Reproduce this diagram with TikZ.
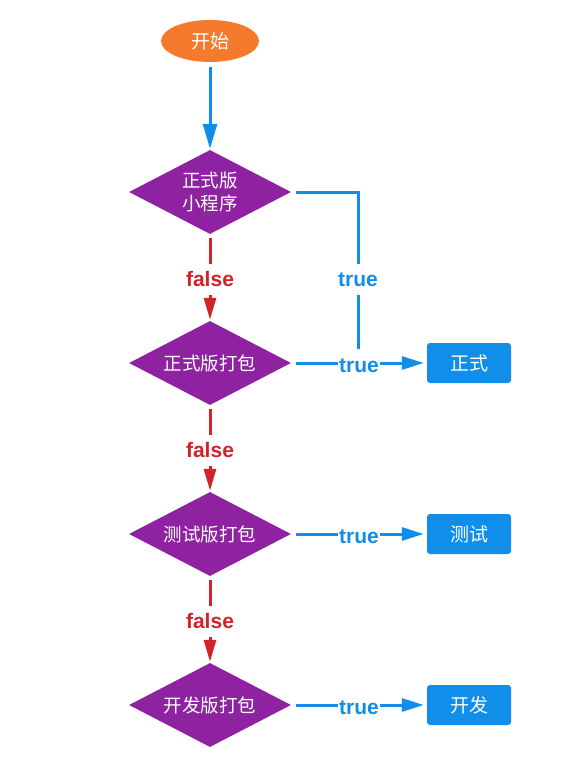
\documentclass[tikz,border=0pt]{standalone}
\usepackage{fontspec}
\setmainfont{Noto Sans CJK SC}
\newfontfamily\latfont{Liberation Sans}
\usetikzlibrary{shapes.geometric,arrows.meta}
\definecolor{cblue}{HTML}{108EE9}
\definecolor{cpurple}{HTML}{8E22A0}
\definecolor{corange}{HTML}{F57A2E}
\definecolor{cred}{HTML}{D2232A}
\tikzset{
  x=1pt,y=1pt,
  startnode/.style={ellipse,fill=corange,text=white,minimum width=98pt,minimum height=42pt,inner sep=0pt,font=\fontsize{19}{23}\selectfont},
  decision/.style={diamond,fill=cpurple,text=white,minimum width=162pt,minimum height=84pt,inner sep=0pt,aspect=1.93,align=center,font=\fontsize{18.5}{23}\selectfont},
  result/.style={rectangle,rounded corners=3pt,fill=cblue,text=white,minimum width=84pt,minimum height=40pt,inner sep=0pt,font=\fontsize{19}{23}\selectfont},
  bline/.style={draw=cblue,line width=3pt},
  rline/.style={draw=cred,line width=3pt},
  lbl/.style={fill=white,inner xsep=1.5pt,inner ysep=8pt,text height=15pt,text depth=0pt,yshift=-1.5pt,font=\latfont\bfseries\fontsize{21}{24}\selectfont},
}
\begin{document}
\begin{tikzpicture}
\useasboundingbox (0,0) rectangle (561,-771);
\node[startnode] (start) at (210,-41) {开始};
\node[decision] (d1) at (210,-192) {正式版\\小程序};
\node[decision] (d2) at (210,-363) {正式版打包};
\node[decision] (d3) at (210,-534) {测试版打包};
\node[decision] (d4) at (210,-705) {开发版打包};
\node[result] (r1) at (469,-363) {正式};
\node[result] (r2) at (469,-534) {测试};
\node[result] (r3) at (469,-705) {开发};
\coordinate (c1) at (358,-192);
\coordinate (c2) at (358,-363);

\draw[bline,-{Triangle[length=25pt,width=14pt]},shorten <=5pt,shorten >=1pt] (start) -- (d1);
\draw[rline,-{Triangle[length=22pt,width=12pt]},shorten <=4pt,shorten >=1pt] (d1) -- node[lbl,text=cred]{false} (d2);
\draw[rline,-{Triangle[length=22pt,width=12pt]},shorten <=4pt,shorten >=1pt] (d2) -- node[lbl,text=cred]{false} (d3);
\draw[rline,-{Triangle[length=22pt,width=12pt]},shorten <=4pt,shorten >=1pt] (d3) -- node[lbl,text=cred]{false} (d4);

\draw[bline,shorten <=5pt] (d1.east) -- (c1) -- node[lbl,text=cblue]{true} (c2);
\draw[bline,-{Triangle[length=22pt,width=13pt]},shorten <=5pt,shorten >=3pt] (d2.east) -- node[lbl,text=cblue]{true} (r1.west);
\draw[bline,-{Triangle[length=22pt,width=13pt]},shorten <=5pt,shorten >=3pt] (d3.east) -- node[lbl,text=cblue]{true} (r2.west);
\draw[bline,-{Triangle[length=22pt,width=13pt]},shorten <=5pt,shorten >=3pt] (d4.east) -- node[lbl,text=cblue]{true} (r3.west);
\end{tikzpicture}
\end{document}
